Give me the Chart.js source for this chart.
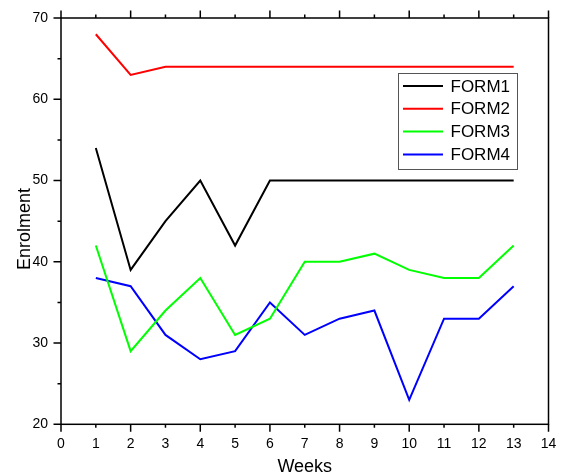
<!DOCTYPE html>
<html>
<head>
<meta charset="utf-8">
<script src="https://cdn.jsdelivr.net/npm/chart.js@4/dist/chart.umd.min.js"></script>
<style>
  html, body { margin: 0; padding: 0; background: #ffffff; }
  #wrap { width: 563px; height: 472px; }
</style>
</head>
<body>
<div id="wrap"><canvas id="c" width="563" height="472"></canvas></div>
<script>
// ---- data ----
const weeks = [1, 2, 3, 4, 5, 6, 7, 8, 9, 10, 11, 12, 13];
const form1 = [54, 39, 45, 50, 42, 50, 50, 50, 50, 50, 50, 50, 50];
const form2 = [68, 63, 64, 64, 64, 64, 64, 64, 64, 64, 64, 64, 64];
const form3 = [42, 29, 34, 38, 31, 33, 40, 40, 41, 39, 38, 38, 42];
const form4 = [38, 37, 31, 28, 29, 35, 31, 33, 34, 23, 33, 33, 37];
const seriesNames = ['FORM1', 'FORM2', 'FORM3', 'FORM4'];
const xTickValues = [0, 1, 2, 3, 4, 5, 6, 7, 8, 9, 10, 11, 12, 13, 14];
const yTickValues = [20, 30, 40, 50, 60, 70];
const yMinorValues = [25, 35, 45, 55, 65];
const xTitle = 'Weeks';
const yTitle = 'Enrolment';

const colors = ['#000000', '#ff0000', '#00ff00', '#0000ff'];
const FONT = "'Liberation Sans', Arial, sans-serif";

function pts(vals) { return weeks.map((w, i) => ({ x: w, y: vals[i] })); }

const datasets = [form1, form2, form3, form4].map((vals, i) => ({
  label: seriesNames[i],
  data: pts(vals),
  borderColor: colors[i],
  backgroundColor: colors[i],
  borderWidth: 2,
  pointRadius: 0,
  tension: 0,
  fill: false
}));

const framePlugin = {
  id: 'frame',
  afterDraw(chart) {
    const { ctx, chartArea: a, scales } = chart;
    const xs = scales.x, ys = scales.y;
    ctx.save();
    ctx.strokeStyle = '#000';
    ctx.lineWidth = 1.5;
    ctx.strokeRect(a.left, a.top, a.right - a.left, a.bottom - a.top);
    const MAJ = 7.5, MIN = 3.5;
    ctx.beginPath();
    // left ticks (major + minor)
    yTickValues.forEach(v => { const p = ys.getPixelForValue(v); ctx.moveTo(a.left - MAJ, p); ctx.lineTo(a.left, p); });
    yMinorValues.forEach(v => { const p = ys.getPixelForValue(v); ctx.moveTo(a.left - MIN, p); ctx.lineTo(a.left, p); });
    // bottom and top ticks
    xTickValues.forEach(v => {
      const p = xs.getPixelForValue(v);
      const len = (v % 2 === 0) ? MAJ : MIN;
      ctx.moveTo(p, a.bottom); ctx.lineTo(p, a.bottom + len);
      ctx.moveTo(p, a.top); ctx.lineTo(p, a.top - len);
    });
    ctx.stroke();

    // axis titles
    ctx.fillStyle = '#000';
    ctx.font = '18px ' + FONT;
    ctx.textAlign = 'center';
    ctx.textBaseline = 'alphabetic';
    ctx.fillText(xTitle, (a.left + a.right) / 2, 472);
    ctx.save();
    ctx.translate(30, 229);
    ctx.rotate(-Math.PI / 2);
    ctx.fillText(yTitle, 0, 0);
    ctx.restore();

    // legend inside the plot
    const lx = 398, ly = 73, lw = 119, lh = 96;
    ctx.fillStyle = '#fff';
    ctx.fillRect(lx, ly, lw, lh);
    ctx.strokeStyle = '#555';
    ctx.lineWidth = 1;
    ctx.strokeRect(lx + 0.5, ly + 0.5, lw, lh);
    ctx.font = '17px ' + FONT;
    ctx.textAlign = 'left';
    ctx.textBaseline = 'middle';
    chart.data.datasets.forEach((ds, i) => {
      const y = 86 + i * 22.8;
      ctx.strokeStyle = ds.borderColor;
      ctx.lineWidth = 2;
      ctx.beginPath();
      ctx.moveTo(403, y); ctx.lineTo(443, y);
      ctx.stroke();
      ctx.fillStyle = '#000';
      ctx.fillText(ds.label, 450.5, y + 1);
    });
    ctx.restore();
  }
};

new Chart(document.getElementById('c'), {
  type: 'line',
  data: { datasets },
  options: {
    responsive: false,
    animation: false,
    devicePixelRatio: 1,
    layout: { padding: { top: 18, right: 14.5, left: 0, bottom: 0 } },
    plugins: { legend: { display: false }, tooltip: { enabled: false } },
    scales: {
      x: {
        type: 'linear',
        min: 0, max: 14,
        afterBuildTicks(scale) { scale.ticks = xTickValues.map(v => ({ value: v })); },
        afterFit(scale) { scale.height = 47.7; scale.paddingLeft = 0; scale.paddingRight = 0; },
        grid: { display: false, drawTicks: false, drawOnChartArea: false },
        border: { display: false },
        ticks: { autoSkip: false, maxRotation: 0, padding: 11.3, color: '#000', font: { family: FONT, size: 14 } }
      },
      y: {
        type: 'linear',
        min: 20, max: 70,
        afterBuildTicks(scale) { scale.ticks = yTickValues.map(v => ({ value: v })); },
        afterFit(scale) { scale.width = 61; scale.paddingTop = 0; scale.paddingBottom = 0; },
        grid: { display: false, drawTicks: false, drawOnChartArea: false },
        border: { display: false },
        ticks: { padding: 13, color: '#000', font: { family: FONT, size: 14 } }
      }
    }
  },
  plugins: [framePlugin]
});
</script>
</body>
</html>
